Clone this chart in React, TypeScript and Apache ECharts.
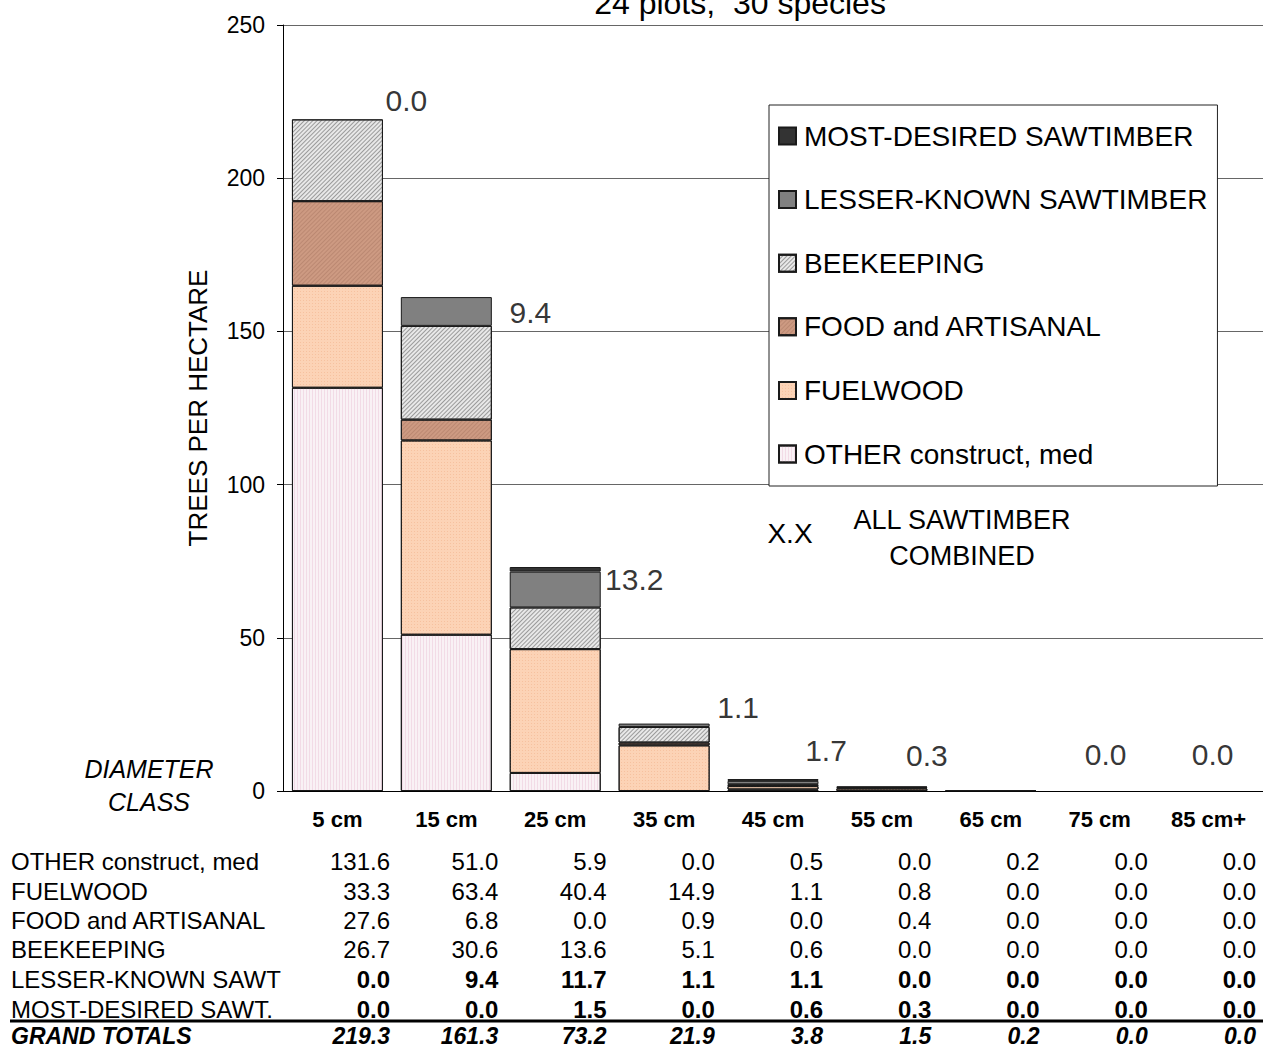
import React, { useEffect, useRef } from "react";
import * as echarts from "echarts";

const categories = ["5 cm", "15 cm", "25 cm", "35 cm", "45 cm", "55 cm", "65 cm", "75 cm", "85 cm+"];
const otherValues = [131.6, 51.0, 5.9, 0.0, 0.5, 0.0, 0.2, 0.0, 0.0];
const fuelwoodValues = [33.3, 63.4, 40.4, 14.9, 1.1, 0.8, 0.0, 0.0, 0.0];
const foodValues = [27.6, 6.8, 0.0, 0.9, 0.0, 0.4, 0.0, 0.0, 0.0];
const beekeepingValues = [26.7, 30.6, 13.6, 5.1, 0.6, 0.0, 0.0, 0.0, 0.0];
const lesserValues = [0.0, 9.4, 11.7, 1.1, 1.1, 0.0, 0.0, 0.0, 0.0];
const mostValues = [0.0, 0.0, 1.5, 0.0, 0.6, 0.3, 0.0, 0.0, 0.0];
const grandTotals = [219.3, 161.3, 73.2, 21.9, 3.8, 1.5, 0.2, 0.0, 0.0];
const sawtimberCombined = [0.0, 9.4, 13.2, 1.1, 1.7, 0.3, 0.0, 0.0, 0.0];
const sawtimberShown = [true, true, true, true, true, true, false, true, true];
const yTicks = { min: 0, max: 250, interval: 50 };

const seriesNames = [
  "OTHER construct, med",
  "FUELWOOD",
  "FOOD and ARTISANAL",
  "BEEKEEPING",
  "LESSER-KNOWN SAWTIMBER",
  "MOST-DESIRED SAWTIMBER",
];
const tableRowNames = [
  "OTHER construct, med",
  "FUELWOOD",
  "FOOD and ARTISANAL",
  "BEEKEEPING",
  "LESSER-KNOWN SAWT",
  "MOST-DESIRED SAWT.",
];
const tableTotalName = "GRAND TOTALS";

// styling (not data)
const FONT = "'Liberation Sans', Arial, Helvetica, sans-serif";
const labelOffsets: [number, number][] = [
  [69, -19], [84, 16], [79, 13], [74, -16], [53, -29], [45, -31], [0, 0], [6, -37], [4, -37],
];

export default function App() {
  const ref = useRef<HTMLDivElement>(null);
  useEffect(() => {
    if (!ref.current) return;
    const chart = echarts.init(ref.current, null, { renderer: "svg" });

    const seriesValues = [otherValues, fuelwoodValues, foodValues, beekeepingValues, lesserValues, mostValues];
    const colors = ["#f9f1f5", "#fcd3b6", "#cd9a82", "#e8e8e8", "#808080", "#333333"];
    const decals: any[] = [
      { symbol: "rect", symbolSize: 1, dashArrayX: [1, 2], dashArrayY: [1, 0], color: "rgba(225,170,195,0.3)" },
      { symbol: "rect", symbolSize: 1, dashArrayX: [1, 2], dashArrayY: [1, 2], color: "rgba(240,170,130,0.45)" },
      { symbol: "rect", symbolSize: 1, dashArrayX: [1, 0], dashArrayY: [1, 2], rotation: -Math.PI / 4, color: "rgba(160,110,90,0.4)" },
      { symbol: "rect", symbolSize: 1, dashArrayX: [1, 0], dashArrayY: [1, 2], rotation: -Math.PI / 4, color: "rgba(90,90,90,0.55)" },
      null,
      null,
    ];

    const barSeries = seriesValues.map((vals, k) => ({
      name: seriesNames[k],
      type: "bar",
      stack: "total",
      barWidth: 91,
      data: vals.map((v) => (v === 0 ? null : v)),
      itemStyle: {
        color: colors[k],
        borderColor: "#1a1a1a",
        borderWidth: 1,
        ...(decals[k] ? { decal: decals[k] } : {}),
      },
      emphasis: { disabled: true },
    }));

    const labelSeries = {
      name: "sawtimber",
      type: "scatter",
      symbolSize: 1,
      itemStyle: { color: "rgba(0,0,0,0)" },
      silent: true,
      z: 10,
      data: grandTotals.map((v, i) => ({
        value: v,
        label: {
          show: sawtimberShown[i],
          position: "inside",
          offset: labelOffsets[i],
          formatter: sawtimberCombined[i].toFixed(1),
          fontSize: 30,
          fontFamily: FONT,
          color: "#000",
          backgroundColor: "#fff",
          padding: [0, 2],
        },
      })),
    };

    const rowY = [861, 891, 920, 949, 979, 1009];
    const totalY = 1036;
    const colRight = (i: number) => 390 + i * 108.25;
    const tableGraphics: any[] = [];
    tableRowNames.forEach((name, r) => {
      const bold = r >= 4;
      tableGraphics.push({
        type: "text",
        x: 11,
        y: rowY[r],
        style: { text: name, fontSize: 24, fontFamily: FONT, fill: "#000", align: "left", verticalAlign: "middle" },
      });
      seriesValues[r].forEach((v, i) => {
        tableGraphics.push({
          type: "text",
          x: colRight(i),
          y: rowY[r],
          style: {
            text: v.toFixed(1),
            fontSize: 24,
            fontWeight: bold ? "bold" : "normal",
            fontFamily: FONT,
            fill: "#000",
            align: "right",
            verticalAlign: "middle",
          },
        });
      });
    });
    tableGraphics.push({
      type: "text",
      x: 11,
      y: totalY,
      style: { text: tableTotalName, fontSize: 23, fontWeight: "bold", fontStyle: "italic", fontFamily: FONT, fill: "#000", align: "left", verticalAlign: "middle" },
    });
    grandTotals.forEach((v, i) => {
      tableGraphics.push({
        type: "text",
        x: colRight(i),
        y: totalY,
        style: { text: v.toFixed(1), fontSize: 23, fontWeight: "bold", fontStyle: "italic", fontFamily: FONT, fill: "#000", align: "right", verticalAlign: "middle" },
      });
    });
    tableGraphics.push({
      type: "line",
      shape: { x1: 10, y1: 1021, x2: 1263, y2: 1021 },
      style: { stroke: "#000", lineWidth: 3 },
    });

    const option: any = {
      animation: false,
      textStyle: { fontFamily: FONT },
      grid: { left: 283, top: 25, width: 985, height: 766, containLabel: false },
      legend: {
        orient: "vertical",
        left: 769,
        top: 105,
        data: [...seriesNames].reverse(),
        icon: "rect",
        itemWidth: 17,
        itemHeight: 17,
        itemGap: 33.6,
        padding: [16, 10, 17, 9],
        backgroundColor: "#fff",
        borderColor: "#222",
        borderWidth: 1,
        selectedMode: false,
        textStyle: { fontSize: 28, fontFamily: FONT, color: "#000", lineHeight: 30, padding: [0, 0, 0, 3] },
      },
      xAxis: {
        type: "category",
        data: categories,
        axisLine: { show: true, lineStyle: { color: "#000", width: 1 } },
        axisTick: { show: false },
        axisLabel: { fontSize: 22, fontWeight: "bold", color: "#000", fontFamily: FONT, margin: 17 },
      },
      yAxis: {
        type: "value",
        min: yTicks.min,
        max: yTicks.max,
        interval: yTicks.interval,
        name: "TREES PER HECTARE",
        nameLocation: "middle",
        nameGap: 72,
        nameTextStyle: { fontSize: 26, color: "#000", fontFamily: FONT },
        axisLine: { show: true, lineStyle: { color: "#000", width: 1 } },
        axisTick: { show: true, length: 6, lineStyle: { color: "#000" } },
        axisLabel: { fontSize: 23, color: "#000", fontFamily: FONT, margin: 18 },
        splitLine: { show: true, lineStyle: { color: "#666", width: 1 } },
      },
      series: [...barSeries, labelSeries],
      graphic: [
        {
          type: "text",
          x: 740,
          y: 3,
          style: { text: "24 plots,  30 species", fontSize: 32, fontFamily: FONT, fill: "#000", align: "center", verticalAlign: "middle" },
        },
        {
          type: "text",
          x: 149,
          y: 769,
          style: { text: "DIAMETER", fontSize: 25, fontStyle: "italic", fontFamily: FONT, fill: "#000", align: "center", verticalAlign: "middle" },
        },
        {
          type: "text",
          x: 149,
          y: 802,
          style: { text: "CLASS", fontSize: 25, fontStyle: "italic", fontFamily: FONT, fill: "#000", align: "center", verticalAlign: "middle" },
        },
        {
          type: "text",
          x: 790,
          y: 533,
          style: { text: "X.X", fontSize: 28, fontFamily: FONT, fill: "#000", align: "center", verticalAlign: "middle" },
        },
        {
          type: "text",
          x: 962,
          y: 520,
          style: { text: "ALL SAWTIMBER", fontSize: 27, fontFamily: FONT, fill: "#000", align: "center", verticalAlign: "middle" },
        },
        {
          type: "text",
          x: 962,
          y: 556,
          style: { text: "COMBINED", fontSize: 27, fontFamily: FONT, fill: "#000", align: "center", verticalAlign: "middle" },
        },
        ...tableGraphics,
      ],
    };
    chart.setOption(option);
    return () => chart.dispose();
  }, []);

  return (
    <div style={{ position: "absolute", left: 0, top: 0, width: 1263, height: 1047, overflow: "hidden", background: "#fff" }}>
      <div ref={ref} style={{ width: 1263, height: 1047 }} />
    </div>
  );
}
